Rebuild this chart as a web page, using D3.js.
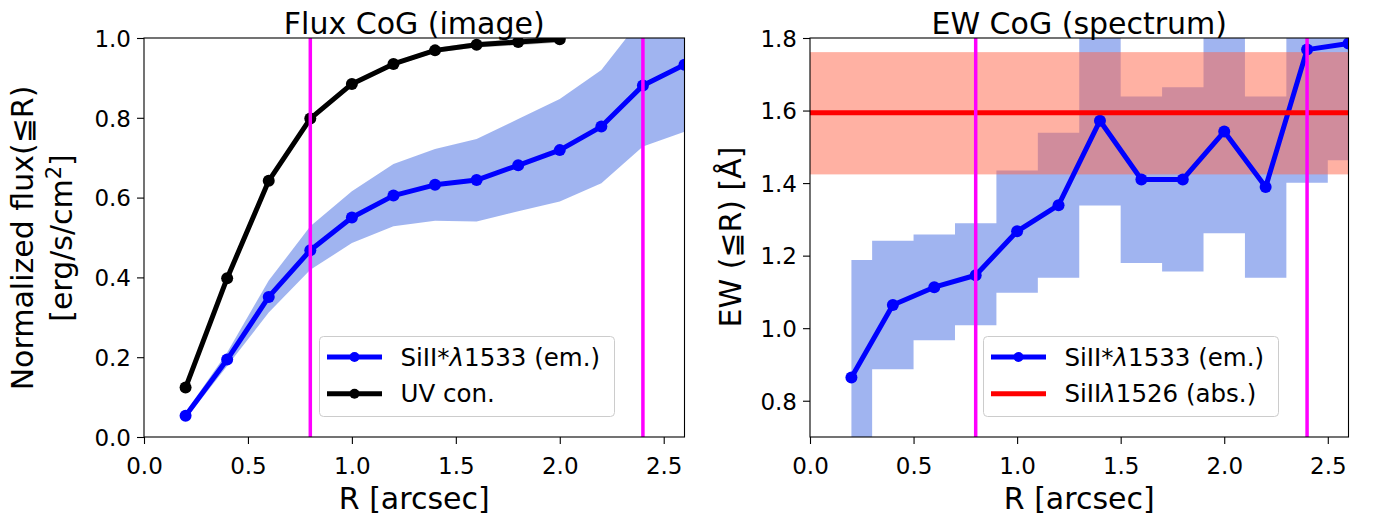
<!DOCTYPE html>
<html>
<head>
<meta charset="utf-8">
<script src="https://cdn.jsdelivr.net/npm/d3@7"></script>
<style>
  html, body { margin: 0; padding: 0; background: #fff; }
  svg { display: block; font-family: "DejaVu Sans", sans-serif; }
</style>
</head>
<body>
<svg id="chart" width="1378" height="519"></svg>
<script>
// ---------------- data ----------------
const radii = [0.2, 0.4, 0.6, 0.8, 1.0, 1.2, 1.4, 1.6, 1.8, 2.0, 2.2, 2.4, 2.6];
// Flux CoG: SiII* 1533 emission
const fluxSi   = [0.053, 0.194, 0.351, 0.468, 0.550, 0.605, 0.632, 0.644, 0.681, 0.719, 0.778, 0.881, 0.933];
const fluxSiLo = [0.045, 0.178, 0.312, 0.419, 0.486, 0.528, 0.542, 0.540, 0.566, 0.590, 0.636, 0.728, 0.765];
const fluxSiHi = [0.062, 0.212, 0.392, 0.528, 0.616, 0.684, 0.722, 0.747, 0.797, 0.847, 0.920, 1.053, 1.120];
// Flux CoG: UV continuum
const radiiUV  = [0.2, 0.4, 0.6, 0.8, 1.0, 1.2, 1.4, 1.6, 1.8, 2.0];
const fluxUV   = [0.124, 0.398, 0.642, 0.798, 0.885, 0.935, 0.969, 0.983, 0.990, 0.997];
const fluxUVLo = [0.120, 0.393, 0.637, 0.793, 0.880, 0.930, 0.963, 0.976, 0.982, 0.989];
const fluxUVHi = [0.128, 0.403, 0.647, 0.803, 0.890, 0.940, 0.975, 0.990, 0.998, 1.005];
// EW CoG: SiII* 1533 emission
const ewSi   = [0.864, 1.064, 1.113, 1.146, 1.267, 1.339, 1.572, 1.410, 1.410, 1.542, 1.389, 1.768, 1.785];
const ewSiLo = [0.550, 0.887, 0.967, 1.008, 1.098, 1.139, 1.338, 1.180, 1.156, 1.262, 1.139, 1.401, 1.463];
const ewSiHi = [1.188, 1.241, 1.258, 1.289, 1.435, 1.539, 1.950, 1.639, 1.664, 1.950, 1.639, 1.950, 1.950];
// SiII 1526 absorption EW
const ewAbs   = 1.594;
const ewAbsLo = 1.424;
const ewAbsHi = 1.761;
// aperture markers
const vLines = [0.8, 2.4];
// ticks
const xTicks = [0.0, 0.5, 1.0, 1.5, 2.0, 2.5];
const yTicksFlux = [0.0, 0.2, 0.4, 0.6, 0.8, 1.0];
const yTicksEW = [0.8, 1.0, 1.2, 1.4, 1.6, 1.8];

// ---------------- layout ----------------
const svg = d3.select("#chart");
const TICK_FS = 23, LABEL_FS = 30, LEG_FS = 24.5;
const plotTop = 38, plotBottom = 437;
const colBlue = "#0000ff", colBand = "#4169e1", colMag = "#ff00ff";

function makePanel(id, left, right, yDomain, yTicks) {
  const x = d3.scaleLinear().domain([0, 2.6]).range([left, right]);
  const y = d3.scaleLinear().domain(yDomain).range([plotBottom, plotTop]);
  const g = svg.append("g");
  svg.append("clipPath").attr("id", "clip" + id)
    .append("rect").attr("x", left).attr("y", plotTop).attr("width", right - left).attr("height", plotBottom - plotTop);
  const plot = g.append("g").attr("clip-path", `url(#clip${id})`);
  return { x, y, g, plot, left, right, yTicks };
}

function drawAxes(p, title, yLabelFn) {
  const { x, y, g, left, right, yTicks } = p;
  const xa = g.append("g").attr("transform", `translate(0,${plotBottom})`)
    .call(d3.axisBottom(x).tickValues(xTicks).tickFormat(d3.format(".1f")).tickSize(7).tickPadding(5));
  const ya = g.append("g").attr("transform", `translate(${left},0)`)
    .call(d3.axisLeft(y).tickValues(yTicks).tickFormat(d3.format(".1f")).tickSize(7).tickPadding(5));
  [xa, ya].forEach(a => {
    a.select(".domain").remove();
    a.selectAll("line").attr("stroke", "#000").attr("stroke-width", 1.1);
    a.selectAll("text").attr("font-size", TICK_FS).attr("fill", "#000").attr("font-family", "DejaVu Sans");
  });
  xa.selectAll("text").attr("dy", null).attr("y", 37);
  ya.selectAll("text").attr("dy", "0.36em").attr("x", -13);
  g.append("rect").attr("x", left).attr("y", plotTop).attr("width", right - left).attr("height", plotBottom - plotTop)
    .attr("fill", "none").attr("stroke", "#000").attr("stroke-width", 1.1);
  g.append("text").attr("x", (left + right) / 2).attr("y", 34).attr("text-anchor", "middle")
    .attr("font-size", LABEL_FS).text(title);
  g.append("text").attr("x", (left + right) / 2).attr("y", 509).attr("text-anchor", "middle")
    .attr("font-size", LABEL_FS).text("R [arcsec]");
  yLabelFn(g);
}

function legend(g, x0, y0, w, items) {
  const lg = g.append("g");
  lg.append("rect").attr("x", x0).attr("y", y0).attr("width", w).attr("height", 80)
    .attr("rx", 4).attr("fill", "#fff").attr("fill-opacity", 0.8).attr("stroke", "#cccccc").attr("stroke-width", 1);
  items.forEach((it, i) => {
    const cy = y0 + 20.5 + i * 36.7;
    lg.append("line").attr("x1", x0 + 7.5).attr("x2", x0 + 62.5).attr("y1", cy).attr("y2", cy)
      .attr("stroke", it.color).attr("stroke-width", 5);
    if (it.marker) lg.append("circle").attr("cx", x0 + 35).attr("cy", cy).attr("r", 5).attr("fill", it.color);
    const t = lg.append("text").attr("x", x0 + 81).attr("y", cy + 8.5).attr("font-size", LEG_FS);
    it.parts.forEach(pt => {
      const ts = t.append("tspan").text(pt.t);
      if (pt.it) ts.attr("font-style", "italic");
    });
  });
}

// ---------------- left panel ----------------
const L = makePanel("L", 144, 684.5, [0, 1], yTicksFlux);
{
  const { x, y, plot } = L;
  const siData = radii.map((r, i) => ({ r, v: fluxSi[i], lo: fluxSiLo[i], hi: fluxSiHi[i] }));
  const uvData = radiiUV.map((r, i) => ({ r, v: fluxUV[i], lo: fluxUVLo[i], hi: fluxUVHi[i] }));
  const area = d3.area().x(d => x(d.r)).y0(d => y(d.lo)).y1(d => y(d.hi));
  const line = d3.line().x(d => x(d.r)).y(d => y(d.v));
  plot.append("path").datum(siData).attr("d", area).attr("fill", colBand).attr("fill-opacity", 0.5);
  plot.append("path").datum(uvData).attr("d", area).attr("fill", "#808080").attr("fill-opacity", 0.5);
  plot.append("path").datum(siData).attr("d", line).attr("fill", "none").attr("stroke", colBlue)
    .attr("stroke-width", 5).attr("stroke-linejoin", "round");
  plot.selectAll(".mS").data(siData).join("circle").attr("cx", d => x(d.r)).attr("cy", d => y(d.v))
    .attr("r", 6).attr("fill", colBlue);
  plot.append("path").datum(uvData).attr("d", line).attr("fill", "none").attr("stroke", "#000")
    .attr("stroke-width", 5).attr("stroke-linejoin", "round");
  plot.selectAll(".mU").data(uvData).join("circle").attr("cx", d => x(d.r)).attr("cy", d => y(d.v))
    .attr("r", 6).attr("fill", "#000");
  plot.selectAll(".vl").data(vLines).join("line").attr("x1", d => x(d)).attr("x2", d => x(d))
    .attr("y1", plotTop).attr("y2", plotBottom).attr("stroke", colMag).attr("stroke-width", 3.5);
}
drawAxes(L, "Flux CoG (image)", g => {
  g.append("text").attr("transform", "translate(33,238) rotate(-90)")
    .attr("text-anchor", "middle").attr("font-size", LABEL_FS).text("Normalized flux(≦R)");
  const t2 = g.append("text").attr("transform", "translate(72,238) rotate(-90)")
    .attr("text-anchor", "middle").attr("font-size", LABEL_FS);
  t2.append("tspan").text("[erg/s/cm");
  t2.append("tspan").attr("font-size", 21).attr("dy", -11).text("2");
  t2.append("tspan").attr("dy", 11).text("]");
});
legend(L.g, 319.5, 336.5, 295, [
  { color: colBlue, marker: true, parts: [{ t: "SiII*" }, { t: "λ", it: true }, { t: "1533 (em.)" }] },
  { color: "#000", marker: true, parts: [{ t: "UV con." }] }
]);

// ---------------- right panel ----------------
const Rp = makePanel("R", 810, 1348.5, [0.7, 1.8], yTicksEW);
{
  const { x, y, plot, left, right } = Rp;
  const ewData = radii.map((r, i) => ({ r, v: ewSi[i], lo: ewSiLo[i], hi: ewSiHi[i] }));
  const stepArea = d3.area().curve(d3.curveStep).x(d => x(d.r)).y0(d => y(d.lo)).y1(d => y(d.hi));
  plot.append("path").datum(ewData).attr("d", stepArea).attr("fill", colBand).attr("fill-opacity", 0.5);
  plot.append("rect").attr("x", left).attr("width", right - left)
    .attr("y", y(ewAbsHi)).attr("height", y(ewAbsLo) - y(ewAbsHi))
    .attr("fill", "#ff6347").attr("fill-opacity", 0.5);
  const line = d3.line().x(d => x(d.r)).y(d => y(d.v));
  plot.append("path").datum(ewData).attr("d", line).attr("fill", "none").attr("stroke", colBlue)
    .attr("stroke-width", 5).attr("stroke-linejoin", "round");
  plot.selectAll(".mE").data(ewData).join("circle").attr("cx", d => x(d.r)).attr("cy", d => y(d.v))
    .attr("r", 6).attr("fill", colBlue);
  plot.append("line").attr("x1", left).attr("x2", right).attr("y1", y(ewAbs)).attr("y2", y(ewAbs))
    .attr("stroke", "#ff0000").attr("stroke-width", 5);
  plot.selectAll(".vl").data(vLines).join("line").attr("x1", d => x(d)).attr("x2", d => x(d))
    .attr("y1", plotTop).attr("y2", plotBottom).attr("stroke", colMag).attr("stroke-width", 3.5);
}
drawAxes(Rp, "EW CoG (spectrum)", g => {
  g.append("text").attr("transform", "translate(741,237) rotate(-90)")
    .attr("text-anchor", "middle").attr("font-size", LABEL_FS).text("EW (≦R) [Å]");
});
legend(Rp.g, 983.5, 336.5, 295, [
  { color: colBlue, marker: true, parts: [{ t: "SiII*" }, { t: "λ", it: true }, { t: "1533 (em.)" }] },
  { color: "#ff0000", marker: false, parts: [{ t: "SiII" }, { t: "λ", it: true }, { t: "1526 (abs.)" }] }
]);
</script>
</body>
</html>
